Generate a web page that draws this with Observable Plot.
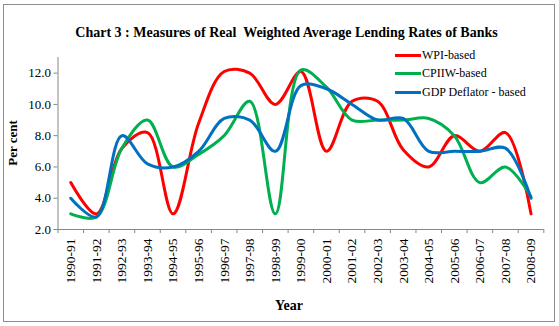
<!DOCTYPE html>
<html><head><meta charset="utf-8">
<script src="https://cdn.jsdelivr.net/npm/d3@7"></script>
<script src="https://cdn.jsdelivr.net/npm/@observablehq/plot@0.6"></script>
<style>
body{margin:0;background:#fff;}
#wrap{position:relative;width:559px;height:326px;overflow:hidden;font-family:"Liberation Serif","Times New Roman",serif;color:#000;}
#border{position:absolute;left:3px;top:4px;width:552px;height:318px;border:1px solid #8c8c8c;box-sizing:border-box;}
#chart{position:absolute;left:0;top:0;}
#chart svg, #chart svg text{font-family:"Liberation Serif","Times New Roman",serif !important;}
#chart svg text{font-size:13px;}
#title{position:absolute;left:7px;width:559px;top:26px;line-height:14px;text-align:center;font-weight:bold;font-size:14px;white-space:pre;}
#legend{position:absolute;left:395px;top:46px;font-size:12px;}
.row{display:flex;align-items:center;height:18.5px;white-space:nowrap;}
.sw{width:26px;height:3px;margin-right:1px;}
#ylab{position:absolute;left:13px;top:143px;transform:translate(-50%,-50%) rotate(-90deg);font-weight:bold;font-size:13px;white-space:nowrap;}
#xlab{position:absolute;left:289px;top:299px;transform:translateX(-50%);font-weight:bold;font-size:14px;line-height:14px;}
</style></head><body>
<div id="wrap">
  <div id="border"></div>
  <div id="chart"></div>
  <div id="title">Chart 3 : Measures of Real  Weighted Average Lending Rates of Banks</div>
  <div id="legend"></div>
  <div id="ylab">Per cent</div>
  <div id="xlab">Year</div>
</div>
<script>
const years = ["1990-91","1991-92","1992-93","1993-94","1994-95","1995-96","1996-97","1997-98","1998-99","1999-00","2000-01","2001-02","2002-03","2003-04","2004-05","2005-06","2006-07","2007-08","2008-09"];
const wpi   = [5.0, 3.0, 7.2, 8.2, 3.0, 8.8, 12.1, 12.0, 10.0, 12.1, 7.0, 10.2, 10.2, 7.1, 6.0, 8.0, 7.0, 8.2, 3.0];
const cpiiw = [3.0, 2.8, 7.2, 9.0, 6.0, 6.8, 8.0, 10.2, 3.0, 12.2, 11.1, 9.0, 9.0, 9.0, 9.1, 8.0, 5.0, 6.0, 4.1];
const gdp   = [4.0, 2.8, 8.0, 6.2, 6.0, 7.0, 9.1, 9.0, 7.0, 11.2, 11.0, 10.0, 9.0, 9.1, 7.0, 7.0, 7.0, 7.2, 4.0];
const seriesNames = ["WPI-based", "CPIIW-based", "GDP Deflator - based"];
const seriesColors = ["#FF0000", "#00B050", "#0070C0"];
const yTicks = [2, 4, 6, 8, 10, 12];
const yDomain = [2, 13];

const seriesValues = [wpi, cpiiw, gdp];
const table = seriesNames.flatMap((name, s) => seriesValues[s].map((v, i) => ({i, v, name})));
const idx = years.map((_, i) => i);
const bounds = [...idx.map(i => i - 0.5), years.length - 0.5];

const chart = Plot.plot({
  width: 559, height: 326,
  marginLeft: 57.5, marginRight: 15.7, marginTop: 57, marginBottom: 97,
  style: {fontSize: "13px", color: "#000", background: "transparent", overflow: "visible"},
  x: {type: "linear", domain: [-0.5, years.length - 0.5]},
  y: {domain: yDomain},
  color: {domain: seriesNames, range: seriesColors},
  marks: [
    Plot.axisY({ticks: yTicks, tickFormat: d => d.toFixed(1), tickSize: 4, tickPadding: 3, stroke: "#868686", fill: "#000", label: null}),
    Plot.axisX({ticks: bounds, tickFormat: () => "", tickSize: 4, stroke: "#868686", label: null}),
    Plot.axisX({ticks: idx, tickFormat: i => years[i], tickRotate: -90, tickSize: 0, tickPadding: 9, fill: "#000", label: null}),
    Plot.ruleY([yDomain[0]], {stroke: "#868686"}),
    Plot.ruleX([-0.5], {stroke: "#868686"}),
    Plot.line(table, {x: "i", y: "v", stroke: "name", strokeWidth: 3, curve: "catmull-rom"})
  ]
});
document.getElementById("chart").appendChild(chart);
chart.querySelectorAll("g[aria-label='x-axis tick label'] text").forEach(t => t.style.fontSize = "13.5px");

const legend = document.getElementById("legend");
seriesNames.forEach((n, k) => {
  const row = document.createElement("div");
  row.className = "row";
  row.innerHTML = `<span class="sw" style="background:${seriesColors[k]}"></span><span>${n}</span>`;
  legend.appendChild(row);
});
</script>
</body></html>
